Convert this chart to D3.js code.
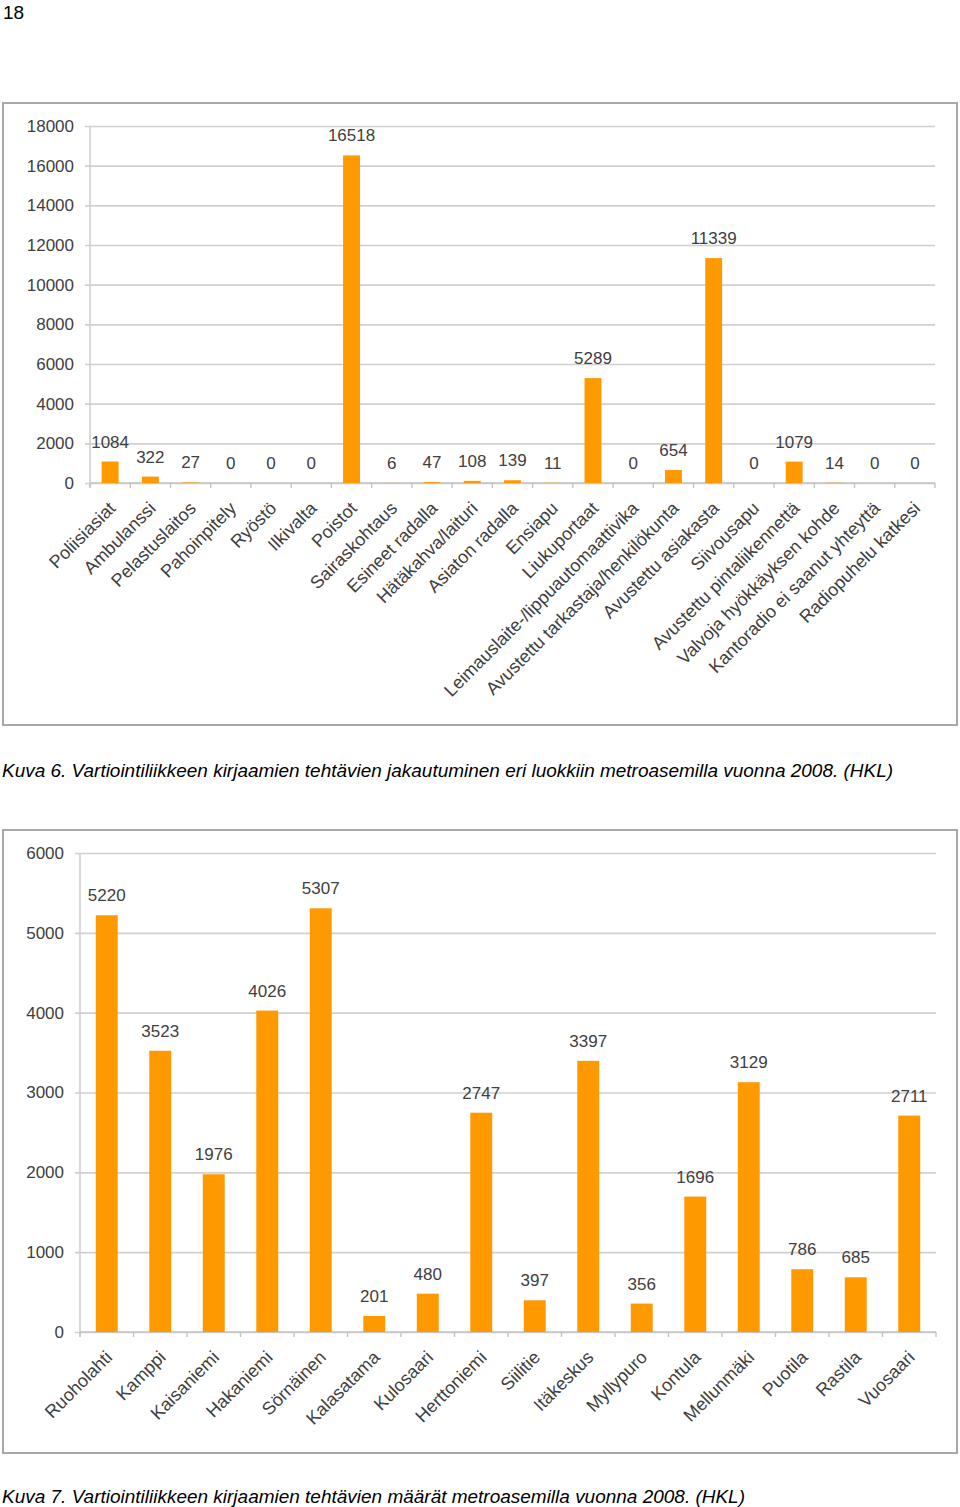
<!DOCTYPE html>
<html><head><meta charset="utf-8">
<script src="https://cdn.jsdelivr.net/npm/d3@7"></script>
<style>html,body{margin:0;padding:0;background:#fff;}svg{display:block;}</style>
</head><body>
<script>
const categories1 = ["Poliisiasiat","Ambulanssi","Pelastuslaitos","Pahoinpitely","Ryöstö","Ilkivalta","Poistot","Sairaskohtaus","Esineet radalla","Hätäkahva/laituri","Asiaton radalla","Ensiapu","Liukuportaat","Leimauslaite-/lippuautomaattivika","Avustettu tarkastaja/henkilökunta","Avustettu asiakasta","Siivousapu","Avustettu pintaliikennettä","Valvoja hyökkäyksen kohde","Kantoradio ei saanut yhteyttä","Radiopuhelu katkesi"];
const values1 = [1084,322,27,0,0,0,16518,6,47,108,139,11,5289,0,654,11339,0,1079,14,0,0];
const ticks1 = [0,2000,4000,6000,8000,10000,12000,14000,16000,18000];

const categories2 = ["Ruoholahti","Kamppi","Kaisaniemi","Hakaniemi","Sörnäinen","Kalasatama","Kulosaari","Herttoniemi","Siilitie","Itäkeskus","Myllypuro","Kontula","Mellunmäki","Puotila","Rastila","Vuosaari"];
const values2 = [5220,3523,1976,4026,5307,201,480,2747,397,3397,356,1696,3129,786,685,2711];
const ticks2 = [0,1000,2000,3000,4000,5000,6000];

const caption1 = "Kuva 6. Vartiointiliikkeen kirjaamien tehtävien jakautuminen eri luokkiin metroasemilla vuonna 2008. (HKL)";
const caption2 = "Kuva 7. Vartiointiliikkeen kirjaamien tehtävien määrät metroasemilla vuonna 2008. (HKL)";

const W = 960, H = 1507;
const svg = d3.select("body").append("svg").attr("width", W).attr("height", H);
const FONT = "'Liberation Sans', Arial, sans-serif";
const TXT = "#404040";
const GRID = "#d0d0d0";
const BAR = "#ff9900";

svg.append("text").attr("x", 3).attr("y", 19).attr("font-family", FONT)
  .attr("font-size", 19).attr("fill", "#000").text("18");

function chart(cfg) {
  const g = svg.append("g");
  g.append("rect").attr("x", cfg.frame[0]).attr("y", cfg.frame[1])
    .attr("width", cfg.frame[2]).attr("height", cfg.frame[3])
    .attr("fill", "#fff").attr("stroke", "#a8a8a8").attr("stroke-width", 2);

  const x = d3.scaleBand().domain(cfg.cats).range(cfg.xr).paddingInner(cfg.pad).paddingOuter(cfg.pad / 2);
  const y = d3.scaleLinear().domain([0, cfg.max]).range(cfg.yr);

  // gridlines + y labels
  const ya = d3.axisLeft(y).tickValues(cfg.ticks).tickSize(0).tickPadding(10).tickFormat(d3.format("d"));
  const yg = g.append("g").attr("transform", `translate(${cfg.xr[0] - 5},0)`).call(ya);
  yg.select(".domain").remove();
  yg.selectAll(".tick line").attr("stroke", GRID).attr("stroke-width", 1.6)
    .attr("x1", 0).attr("x2", cfg.xr[1] - cfg.xr[0] + 5);
  yg.selectAll(".tick text").attr("font-family", FONT).attr("font-size", 17).attr("fill", TXT).attr("x", -(cfg.ylabGap));

  // y axis line
  g.append("line").attr("x1", cfg.xr[0]).attr("x2", cfg.xr[0]).attr("y1", cfg.yr[1]).attr("y2", cfg.yr[0] + 5)
    .attr("stroke", GRID).attr("stroke-width", 1.6);

  // x axis with ticks at band boundaries
  const boundaries = cfg.cats.map(c => x(c) - x.step() * x.paddingInner() / 2);
  boundaries.push(cfg.xr[1]);
  g.append("line").attr("x1", cfg.xr[0]).attr("x2", cfg.xr[1]).attr("y1", cfg.yr[0]).attr("y2", cfg.yr[0])
    .attr("stroke", "#c4c4c4").attr("stroke-width", 1.6);
  g.selectAll(".xt").data(boundaries).enter().append("line")
    .attr("x1", d => d).attr("x2", d => d).attr("y1", cfg.yr[0]).attr("y2", cfg.yr[0] + 5)
    .attr("stroke", "#c4c4c4").attr("stroke-width", 1.4);

  // bars
  g.selectAll(".bar").data(cfg.vals).enter().append("rect")
    .attr("x", (d, i) => x(cfg.cats[i])).attr("width", x.bandwidth())
    .attr("y", d => y(d)).attr("height", d => y(0) - y(d)).attr("fill", BAR);

  // value labels
  g.selectAll(".vl").data(cfg.vals).enter().append("text")
    .attr("x", (d, i) => x(cfg.cats[i]) + x.bandwidth() / 2).attr("y", d => y(d) - 14)
    .attr("text-anchor", "middle").attr("font-family", FONT).attr("font-size", 17).attr("fill", TXT)
    .text(d => d);

  // category labels
  g.selectAll(".cl").data(cfg.cats).enter().append("text")
    .attr("transform", c => `translate(${x(c) + x.bandwidth() / 2 + 2},${cfg.yr[0] + 22}) rotate(-45)`)
    .attr("text-anchor", "end").attr("dy", "0.35em")
    .attr("font-family", FONT).attr("font-size", cfg.catFont).attr("fill", TXT)
    .text(c => c);
}

chart({frame: [3, 103, 954, 622], cats: categories1, vals: values1, ticks: ticks1, max: 18000,
  xr: [90, 935], yr: [483, 126], pad: 0.58, ylabGap: 11, catFont: 18});
chart({frame: [3, 830, 954, 623], cats: categories2, vals: values2, ticks: ticks2, max: 6000,
  xr: [80, 936], yr: [1332, 853], pad: 0.59, ylabGap: 11, catFont: 18});

svg.append("text").attr("x", 2).attr("y", 777).attr("font-family", FONT).attr("font-style", "italic")
  .attr("font-size", 18).attr("fill", "#000").attr("textLength", 891).attr("lengthAdjust", "spacingAndGlyphs").text(caption1);
svg.append("text").attr("x", 2).attr("y", 1503).attr("font-family", FONT).attr("font-style", "italic")
  .attr("font-size", 18).attr("fill", "#000").attr("textLength", 743).attr("lengthAdjust", "spacingAndGlyphs").text(caption2);
</script>
</body></html>
